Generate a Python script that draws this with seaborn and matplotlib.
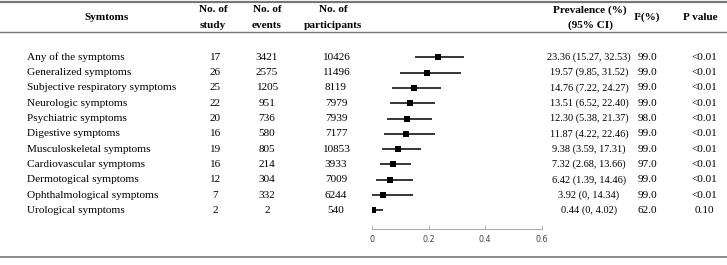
import numpy as np
import pandas as pd
import seaborn as sns
import matplotlib
matplotlib.use("Agg")
import matplotlib.pyplot as plt
from matplotlib.transforms import blended_transform_factory

# table data
symptoms = ["Any of the symptoms", "Generalized symptoms", "Subjective respiratory symptoms",
            "Neurologic symptoms", "Psychiatric symptoms", "Digestive symptoms",
            "Musculoskeletal symptoms", "Cardiovascular symptoms", "Dermotogical symptoms",
            "Ophthalmological symptoms", "Urological symptoms"]
n_study = [17, 26, 25, 22, 20, 16, 19, 16, 12, 7, 2]
n_events = [3421, 2575, 1205, 951, 736, 580, 805, 214, 304, 332, 2]
n_part = [10426, 11496, 8119, 7979, 7939, 7177, 10853, 3933, 7009, 6244, 540]
prev = [23.36, 19.57, 14.76, 13.51, 12.30, 11.87, 9.38, 7.32, 6.42, 3.92, 0.44]
ci_lo = [15.27, 9.85, 7.22, 6.52, 5.38, 4.22, 3.59, 2.68, 1.39, 0, 0]
ci_hi = [32.53, 31.52, 24.27, 22.40, 21.37, 22.46, 17.31, 13.66, 14.46, 14.34, 4.02]
i2 = [99.0, 99.0, 99.0, 99.0, 98.0, 99.0, 99.0, 97.0, 99.0, 99.0, 62.0]
pvals = ["<0.01"] * 10 + ["0.10"]
xticks = [0, 0.2, 0.4, 0.6]

df = pd.DataFrame({"symptom": symptoms, "prev": np.array(prev) / 100,
                   "lo": np.array(ci_lo) / 100, "hi": np.array(ci_hi) / 100,
                   "row": np.arange(len(symptoms))})

W, H = 727, 265
fig = plt.figure(figsize=(W / 100, H / 100), dpi=100)
plt.rcParams["font.family"] = ["Liberation Serif", "DejaVu Serif"]

def fx(px):
    return px / W

def fy(py):
    return 1 - py / H

# forest axis: x 0..0.6 -> px 372..541.5, rows 57..210 px, spine at 229
row0, step = 57.3, 15.3
ax_top, ax_bot = 40, 229
ax = fig.add_axes([fx(372), fy(ax_bot), fx(541.5) - fx(372), (ax_bot - ax_top) / H])
ax.set_xlim(0, 0.6)
ax.set_ylim((ax_bot - row0) / step, (ax_top - row0) / step)

ax.hlines(df["row"], df["lo"], df["hi"], color="black", lw=1.1)
sns.scatterplot(data=df, x="prev", y="row", marker="s", color="black", s=22,
                edgecolor="black", linewidth=0, ax=ax, zorder=3)
for s in ["top", "right", "left"]:
    ax.spines[s].set_visible(False)
ax.spines["bottom"].set_color("#999999")
ax.spines["bottom"].set_linewidth(0.6)
ax.set_yticks([])
ax.set_xticks(xticks)
ax.set_xticklabels(["0", "0.2", "0.4", "0.6"], family="DejaVu Sans")
ax.tick_params(axis="x", direction="in", length=3, width=0.5, color="#999999",
               labelsize=5.8, labelcolor="#444444", pad=4)
ax.set_xlabel("")
ax.set_ylabel("")
ax.patch.set_alpha(0)

fs = 8.1
tr = blended_transform_factory(fig.transFigure, ax.transData)

def fmt(v):
    return "0" if v == 0 else f"{v:.2f}"

for i in range(len(symptoms)):
    fig.text(fx(27), i, symptoms[i], transform=tr, fontsize=fs, va="center", ha="left")
    fig.text(fx(215), i, str(n_study[i]), transform=tr, fontsize=fs, va="center", ha="center")
    fig.text(fx(267), i, str(n_events[i]), transform=tr, fontsize=fs, va="center", ha="center")
    fig.text(fx(336), i, str(n_part[i]), transform=tr, fontsize=fs, va="center", ha="center")
    fig.text(fx(589), i, f"{prev[i]:.2f} ({fmt(ci_lo[i])}, {ci_hi[i]:.2f})", transform=tr,
             fontsize=7.4, va="center", ha="center")
    fig.text(fx(647), i, f"{i2[i]:.1f}", transform=tr, fontsize=fs, va="center", ha="center")
    fig.text(fx(704), i, pvals[i], transform=tr, fontsize=fs, va="center", ha="center")

# header
hk = dict(fontsize=fs, fontweight="bold", ha="center", va="center")
fig.text(fx(107), fy(17.5), "Symtoms", **hk)
fig.text(fx(213), fy(10), "No. of", **hk)
fig.text(fx(213), fy(25), "study", **hk)
fig.text(fx(267), fy(10), "No. of", **hk)
fig.text(fx(267), fy(25), "events", **hk)
fig.text(fx(333), fy(10), "No. of", **hk)
fig.text(fx(333), fy(25), "participants", **hk)
fig.text(fx(590), fy(10), "Prevalence (%)", **hk)
fig.text(fx(590), fy(25), "(95% CI)", **hk)
fig.text(fx(647), fy(17.5), "I²(%)", **hk)
fig.text(fx(700), fy(17.5), "P value", **hk)

# horizontal rules
for py, lw in [(2, 1.6), (32, 1.0), (257, 1.2)]:
    fig.add_artist(plt.Line2D([0, 1], [fy(py), fy(py)], color="#777777", lw=lw,
                              transform=fig.transFigure))

fig.savefig("out.png", dpi=100)
